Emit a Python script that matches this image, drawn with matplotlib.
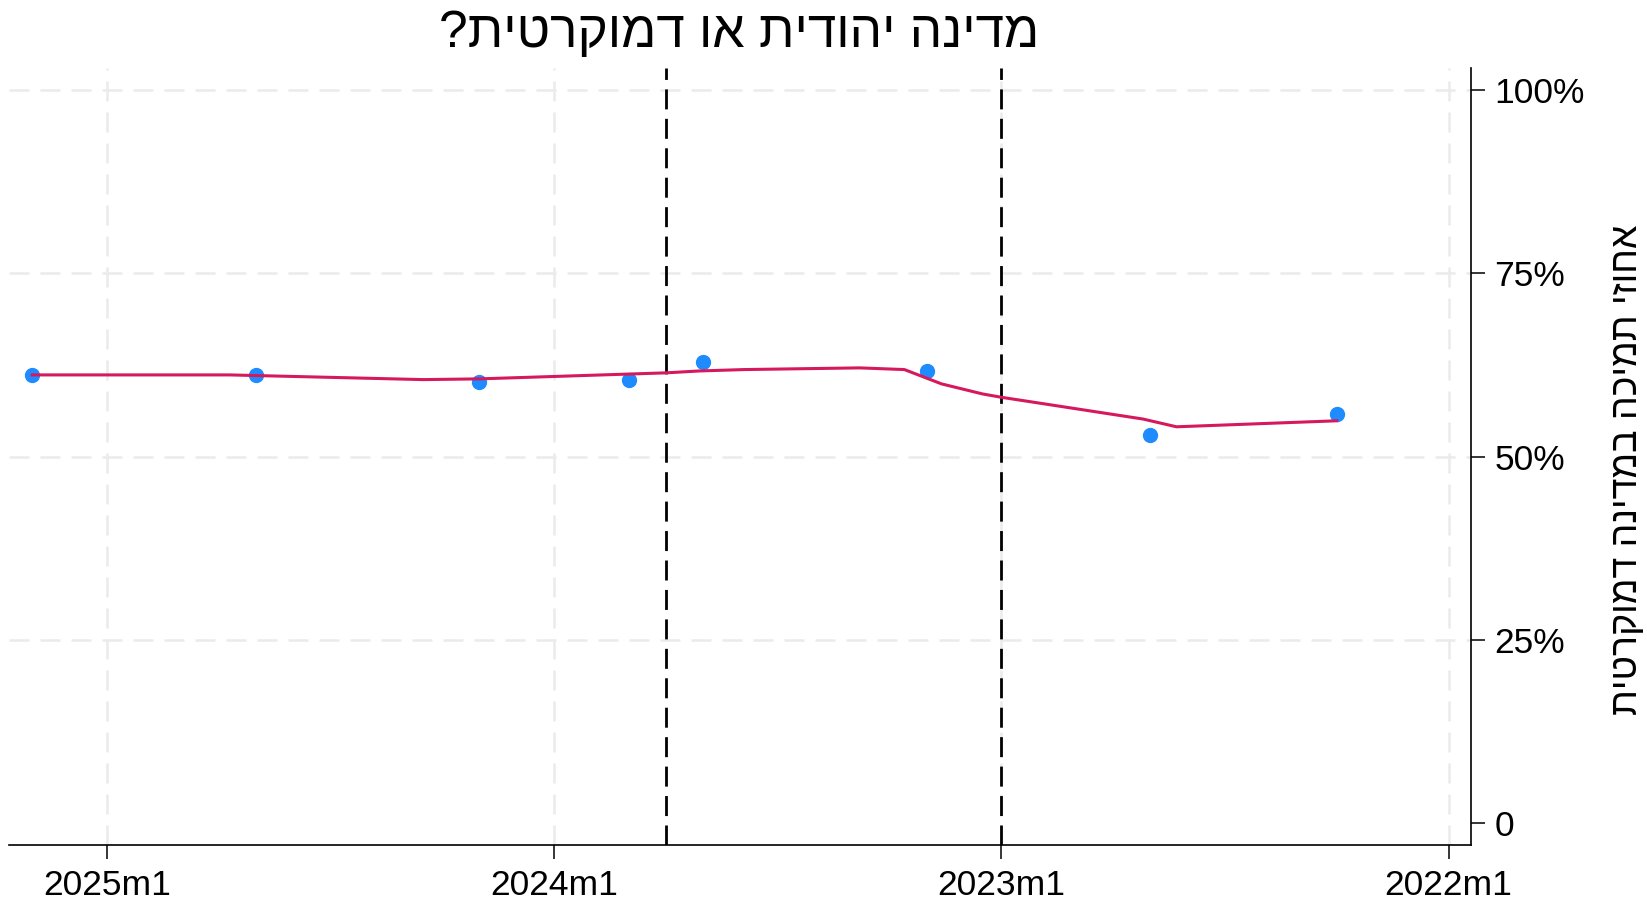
import numpy as np
import matplotlib
matplotlib.use('Agg')
import matplotlib.pyplot as plt

plt.rcParams['font.family'] = ['Liberation Sans', 'DejaVu Sans']

# Stata monthly dates (months since 1960m1)
survey_month = [782, 776, 770, 766, 764, 758, 752, 747]
support = [61.2, 61.2, 60.2, 60.4, 62.9, 61.7, 53.0, 55.8]

# smoothed trend line
trend_month = [782.0, 776.7, 771.5, 770.0, 765.0, 764.1, 762.9, 759.8,
               758.6, 757.6, 756.5, 756.0, 752.2, 751.3, 747.0]
trend_val = [61.16, 61.16, 60.52, 60.62, 61.44, 61.7, 61.89, 62.12,
             61.89, 59.93, 58.56, 58.11, 55.14, 54.08, 54.90]

event_months = [765, 756]  # 2023m10, 2023m1
xtick_pos = [780, 768, 756, 744]
xtick_lab = ['2025m1', '2024m1', '2023m1', '2022m1']
ytick_pos = [0, 25, 50, 75, 100]
ytick_lab = ['0', '25%', '50%', '75%', '100%']

title = 'מדינה יהודית או דמוקרטית?'
ylab = 'אחוזי תמיכה במדינה דמוקרטית'

fig = plt.figure(figsize=(16.47, 8.99), dpi=100)
ax = fig.add_axes([0.0055, 0.0600, 0.8874, 0.8640])

ax.grid(True, color='#ebebeb', linestyle=(0, (8, 4.4)), linewidth=1.8, zorder=0)
for m in event_months:
    ax.axvline(m, color='black', linestyle=(0, (7.2, 3.4)), linewidth=2, zorder=2)
ax.plot(survey_month, support, 'o', color='#1e8cff', markersize=10, zorder=3)
ax.plot(trend_month, trend_val, color='#d6185d', linewidth=2.2, zorder=4)

ax.set_xlim(782.62, 743.41)
ax.set_ylim(-3, 103)
ax.set_xticks(xtick_pos)
ax.set_xticklabels(xtick_lab)
ax.set_yticks(ytick_pos)
ax.set_yticklabels(ytick_lab)
ax.yaxis.tick_right()
ax.tick_params(labelsize=25.5, length=10, width=1.1, pad=7, color='black')
# no gridline along zero
ax.yaxis.get_gridlines()[0].set_visible(False)

for side in ['left', 'top']:
    ax.spines[side].set_visible(False)
for side in ['bottom', 'right']:
    ax.spines[side].set_linewidth(1.2)

# matplotlib does not do bidi, so feed the Hebrew in visual order
fig.text(0.449, 0.963, title[::-1], fontsize=37, ha='center', va='center')
fig.text(0.988, 0.477, ylab[::-1], fontsize=27, rotation=90, ha='center', va='center')

fig.savefig('out.png', dpi=100)
